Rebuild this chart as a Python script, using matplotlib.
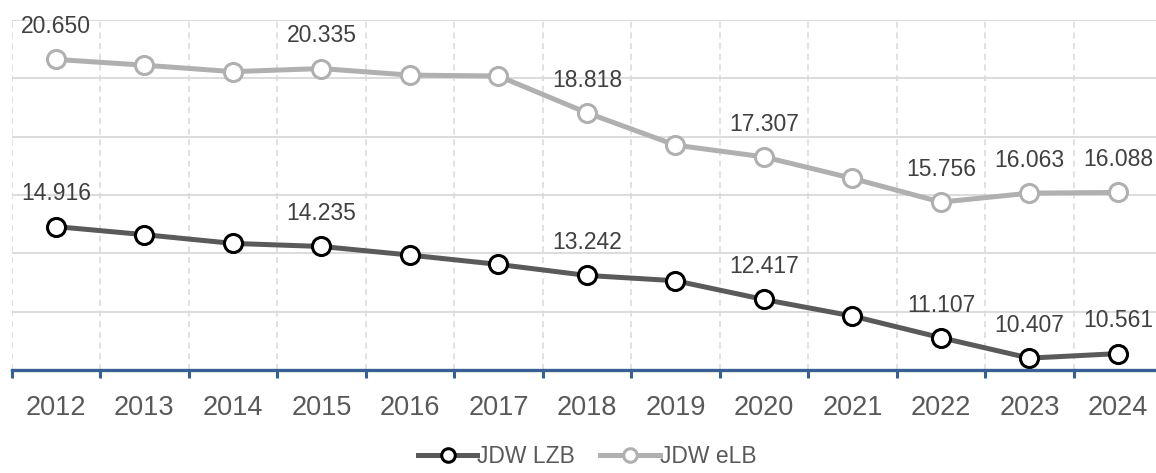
import numpy as np
import matplotlib
matplotlib.use('Agg')
import matplotlib.pyplot as plt
from matplotlib import font_manager

## Data
years = ['2012', '2013', '2014', '2015', '2016', '2017', '2018',
         '2019', '2020', '2021', '2022', '2023', '2024']
jdw_lzb = [14.916, 14.64, 14.34, 14.235, 13.94, 13.62, 13.242,
           13.06, 12.417, 11.85, 11.107, 10.407, 10.561]
jdw_elb = [20.650, 20.45, 20.23, 20.335, 20.11, 20.08, 18.818,
           17.71, 17.307, 16.57, 15.756, 16.063, 16.088]
# points that carry a value label
labelled = [0, 3, 6, 8, 10, 11, 12]

## Fonts
names = {f.name for f in font_manager.fontManager.ttflist}
base_font = 'Liberation Sans' if 'Liberation Sans' in names else 'DejaVu Sans'
narrow_font = 'Liberation Sans Narrow' if 'Liberation Sans Narrow' in names else base_font
plt.rcParams['font.family'] = [base_font, 'DejaVu Sans']

c_lzb = '#5a5a5a'
c_elb = '#b0b0b0'
c_axis = '#386094'
c_grid = '#d9d9d9'
c_text = '#404040'

fig = plt.figure(figsize=(11.56, 4.73), dpi=100)
ax = fig.add_axes([0.0101, 0.2178, 0.9899, 0.7399])

x = np.arange(len(years))
ax.plot(x, jdw_lzb, '-o', color=c_lzb, lw=3.6, ms=13, mew=2.2,
        mfc='white', mec='black', label='JDW LZB', zorder=4)
ax.plot(x, jdw_elb, '-o', color=c_elb, lw=3.6, ms=13, mew=2.2,
        mfc='white', mec=c_elb, label='JDW eLB', zorder=3)

# value labels, placed above the marker
for i in labelled:
  for series in (jdw_lzb, jdw_elb):
    ax.annotate('%.3f' % series[i], (x[i], series[i]),
                xytext=(0, 23.5), textcoords='offset points',
                ha='center', va='center', fontsize=16.5, color=c_text)

## Axes styling
ax.set_xlim(-0.5, 12.43)
ax.set_ylim(10, 22)
ax.set_yticks(np.arange(10, 23, 2))
ax.set_yticklabels([])
ax.tick_params(axis='y', length=0)

ax.set_xticks(x)
ax.set_xticklabels(years, fontsize=19.5, color='#595959', family=narrow_font)
ax.set_xticks(np.arange(-0.5, 12, 1), minor=True)
ax.tick_params(axis='x', which='major', length=0, pad=18)
ax.tick_params(axis='x', which='minor', length=6, width=2.2,
               color=c_axis, direction='out')

ax.grid(axis='y', which='major', color=c_grid, lw=1.3, ls='-')
ax.grid(axis='x', which='minor', color=c_grid, lw=1.1, ls=(0, (4, 3)))
ax.grid(axis='x', which='major', visible=False)
ax.set_axisbelow(True)

for side in ('top', 'right', 'left'):
  ax.spines[side].set_visible(False)
ax.spines['bottom'].set_color(c_axis)
ax.spines['bottom'].set_linewidth(2.4)
ax.spines['bottom'].set_zorder(5)

fig.legend(loc='center', bbox_to_anchor=(0.508, 0.034), ncol=2,
           frameon=False, fontsize=16.5, handlelength=2.6,
           handletextpad=0.0, columnspacing=1.1, markerscale=0.75,
           labelcolor='#595959')

fig.savefig('out.png', dpi=100)
